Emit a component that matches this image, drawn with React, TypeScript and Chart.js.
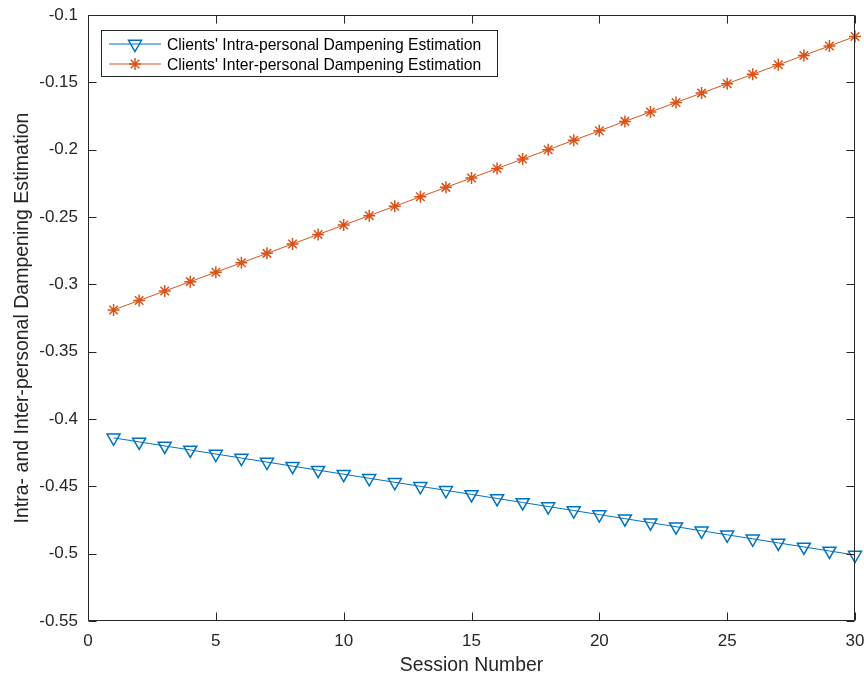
import React, { useEffect, useRef } from "react";
import { Chart, registerables } from "chart.js";

Chart.register(...registerables);

const sessions = [1, 2, 3, 4, 5, 6, 7, 8, 9, 10, 11, 12, 13, 14, 15, 16, 17, 18, 19, 20, 21, 22, 23, 24, 25, 26, 27, 28, 29, 30];
const intraValues = [-0.414, -0.417, -0.42, -0.423, -0.426, -0.429, -0.432, -0.435, -0.438, -0.441, -0.444, -0.447, -0.45, -0.453, -0.456, -0.459, -0.462, -0.465, -0.468, -0.471, -0.474, -0.477, -0.48, -0.483, -0.486, -0.489, -0.492, -0.495, -0.498, -0.501];
const interValues = [-0.319, -0.312, -0.305, -0.298, -0.291, -0.284, -0.277, -0.27, -0.263, -0.256, -0.249, -0.242, -0.235, -0.228, -0.221, -0.214, -0.207, -0.2, -0.193, -0.186, -0.179, -0.172, -0.165, -0.158, -0.151, -0.144, -0.137, -0.13, -0.123, -0.116];
const seriesLabels = ["Clients' Intra-personal Dampening Estimation", "Clients' Inter-personal Dampening Estimation"];
const xTicks = [0, 5, 10, 15, 20, 25, 30];
const yTicks = [-0.55, -0.5, -0.45, -0.4, -0.35, -0.3, -0.25, -0.2, -0.15, -0.1];
const xTitle = "Session Number";
const yTitle = "Intra- and Inter-personal Dampening Estimation";

const BLUE = "#0072BD";
const ORANGE = "#D95319";
const AXIS = "#262626";
const FONT = "'Liberation Sans', Arial, Helvetica, sans-serif";

function drawTri(ctx: CanvasRenderingContext2D, x: number, y: number, r: number) {
  ctx.beginPath();
  for (let i = 0; i < 3; i++) {
    const a = Math.PI + (i * 2 * Math.PI) / 3;
    const px = x + Math.sin(a) * r;
    const py = y - Math.cos(a) * r;
    if (i === 0) ctx.moveTo(px, py);
    else ctx.lineTo(px, py);
  }
  ctx.closePath();
  ctx.stroke();
}

function drawStar(ctx: CanvasRenderingContext2D, x: number, y: number, r: number) {
  ctx.beginPath();
  for (let i = 0; i < 4; i++) {
    const a = (i * Math.PI) / 4;
    ctx.moveTo(x - Math.cos(a) * r, y - Math.sin(a) * r);
    ctx.lineTo(x + Math.cos(a) * r, y + Math.sin(a) * r);
  }
  ctx.stroke();
}

const framePlugin = {
  id: "matlabFrame",
  afterDatasetsDraw(chart: any) {
    const { ctx, chartArea, scales } = chart;
    const { left, right, top, bottom } = chartArea;
    const L = Math.round(left) + 0.5;
    const R = Math.round(right) - 0.5;
    const T = Math.round(top) + 0.5;
    const B = Math.round(bottom) - 0.5;
    ctx.save();
    ctx.strokeStyle = AXIS;
    ctx.lineWidth = 1;
    ctx.beginPath();
    ctx.rect(L, T, R - L, B - T);
    ctx.stroke();
    const tl = 8;
    ctx.beginPath();
    for (const v of xTicks) {
      const x = Math.round(scales.x.getPixelForValue(v)) + 0.5;
      ctx.moveTo(x, B);
      ctx.lineTo(x, B - tl);
      ctx.moveTo(x, T);
      ctx.lineTo(x, T + tl);
    }
    for (const v of yTicks) {
      const y = Math.round(scales.y.getPixelForValue(v)) + 0.5;
      ctx.moveTo(L, y);
      ctx.lineTo(L + tl, y);
      ctx.moveTo(R, y);
      ctx.lineTo(R - tl, y);
    }
    ctx.stroke();

    // legend
    const bx = 101.5, by = 30.5, bw = 396, bh = 46;
    ctx.fillStyle = "#ffffff";
    ctx.fillRect(bx, by, bw, bh);
    ctx.strokeStyle = AXIS;
    ctx.strokeRect(bx, by, bw, bh);
    const rows = [44, 64];
    const colors = [BLUE, ORANGE];
    for (let i = 0; i < 2; i++) {
      const y = rows[i];
      ctx.strokeStyle = colors[i];
      ctx.lineWidth = 1;
      ctx.beginPath();
      ctx.moveTo(109, y);
      ctx.lineTo(161, y);
      ctx.stroke();
      ctx.lineWidth = 1.5;
      if (i === 0) drawTri(ctx, 135, y, 7.5);
      else drawStar(ctx, 135, y, 6);
      ctx.fillStyle = "#000000";
      ctx.font = `15.7px ${FONT}`;
      ctx.textAlign = "left";
      ctx.textBaseline = "alphabetic";
      ctx.fillText(seriesLabels[i], 167, y + 5.5);
    }
    ctx.restore();
  },
};

export default function App() {
  const ref = useRef<HTMLCanvasElement | null>(null);
  useEffect(() => {
    document.body.style.margin = "0";
    const canvas = ref.current;
    if (!canvas) return;
    const chart = new Chart(canvas, {
      type: "line",
      data: {
        datasets: [
          {
            label: seriesLabels[0],
            data: sessions.map((s, i) => ({ x: s, y: intraValues[i] })),
            borderColor: BLUE,
            borderWidth: 1,
            pointStyle: "triangle",
            rotation: 180,
            pointRadius: 7.5,
            pointBorderWidth: 1.5,
            pointBorderColor: BLUE,
            pointBackgroundColor: "rgba(0,0,0,0)",
            clip: false,
          } as any,
          {
            label: seriesLabels[1],
            data: sessions.map((s, i) => ({ x: s, y: interValues[i] })),
            borderColor: ORANGE,
            borderWidth: 1,
            pointStyle: "star",
            pointRadius: 6,
            pointBorderWidth: 1.5,
            pointBorderColor: ORANGE,
            pointBackgroundColor: ORANGE,
            clip: false,
          } as any,
        ],
      },
      options: {
        responsive: false,
        animation: false,
        devicePixelRatio: 1,
        layout: { padding: { top: 15, right: 9, left: 0, bottom: 0 } },
        plugins: { legend: { display: false }, tooltip: { enabled: false } },
        scales: {
          x: {
            type: "linear",
            min: 0,
            max: 30,
            afterFit: (s: any) => { s.height = 56; s.paddingLeft = 0; s.paddingRight = 0; },
            afterBuildTicks: (s: any) => { s.ticks = xTicks.map((v) => ({ value: v })); },
            grid: { display: false, drawTicks: false },
            border: { display: false },
            ticks: {
              padding: 10,
              color: AXIS,
              font: { size: 17, family: FONT },
              maxRotation: 0,
              callback: (v: any) => String(v),
            },
            title: {
              display: true,
              text: xTitle,
              color: AXIS,
              font: { size: 19.4, family: FONT },
              padding: { top: 0, bottom: 0 },
            },
          },
          y: {
            type: "linear",
            min: -0.55,
            max: -0.1,
            afterFit: (s: any) => { s.width = 88; s.paddingTop = 0; s.paddingBottom = 0; },
            afterBuildTicks: (s: any) => { s.ticks = yTicks.map((v) => ({ value: v })); },
            grid: { display: false, drawTicks: false },
            border: { display: false },
            ticks: {
              padding: 10,
              color: AXIS,
              font: { size: 17, family: FONT },
              callback: (v: any) => String(Math.round(Number(v) * 100) / 100),
            },
            title: {
              display: true,
              text: yTitle,
              color: AXIS,
              font: { size: 19.5, family: FONT },
              padding: { top: 11, bottom: 0 },
            },
          },
        },
      } as any,
      plugins: [framePlugin],
    });
    return () => chart.destroy();
  }, []);
  return (
    <div style={{ position: "absolute", left: 0, top: 0, width: 864, height: 677, background: "#fff" }}>
      <canvas ref={ref} width={864} height={677} style={{ width: 864, height: 677, display: "block" }} />
    </div>
  );
}
